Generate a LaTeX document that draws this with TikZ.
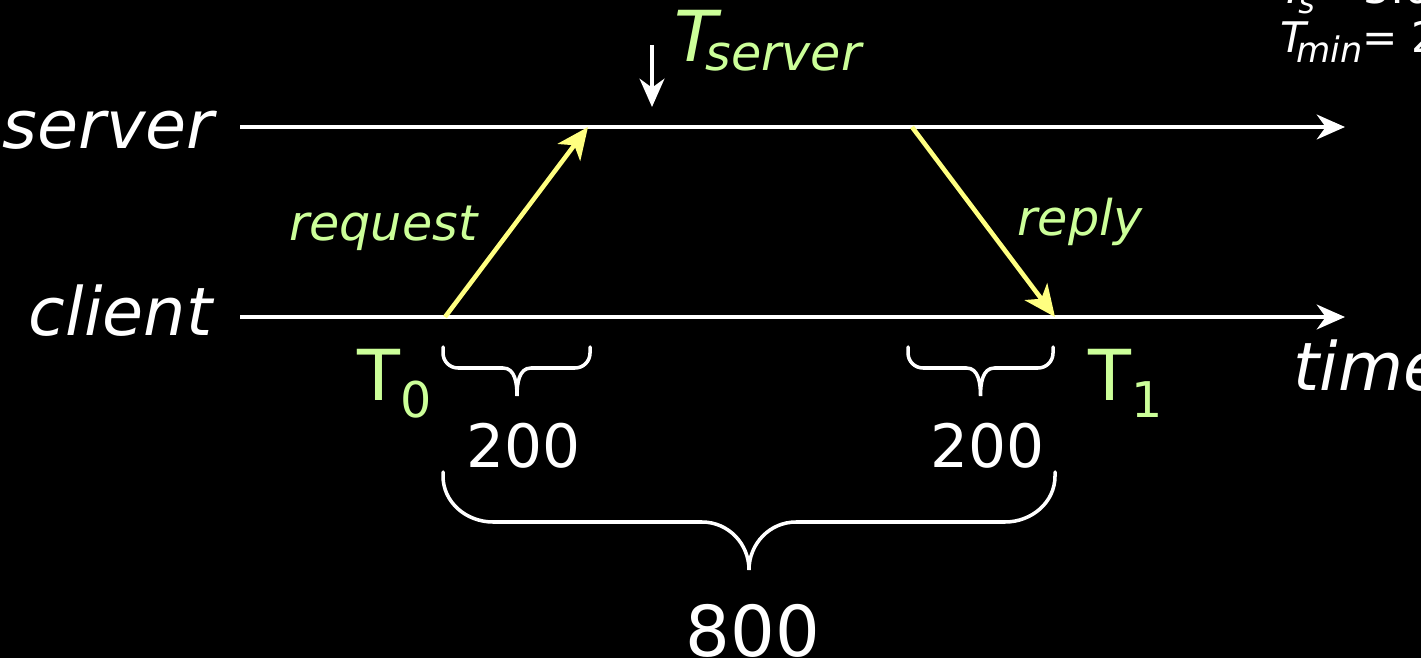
\documentclass[tikz,border=0pt]{standalone}
\usepackage{fontspec}
\setmainfont{DejaVu Sans}
\usetikzlibrary{arrows.meta}
\definecolor{msggreen}{HTML}{CCFF99}
\definecolor{msgyellow}{HTML}{FFFF80}
\begin{document}
\begin{tikzpicture}[
        axis/.style={draw=white,line width=1.3pt,
          -{Stealth[length=8pt,width=7pt,inset=2.5pt]}},
        msg/.style={draw=msgyellow,line width=1.3pt,
          -{Stealth[length=9pt,width=8pt,inset=2.5pt]}},
        role/.style={text=white,font=\fontsize{19}{22}\selectfont\itshape,inner sep=0pt},
        note/.style={text=msggreen,font=\fontsize{14}{17}\selectfont\itshape,inner sep=0pt},
        stamp/.style={text=msggreen,font=\fontsize{20}{24}\selectfont,inner sep=0pt},
        num/.style={text=white,font=\fontsize{17}{20}\selectfont,inner sep=0pt},
        corner/.style={text=white,font=\fontsize{12}{14}\selectfont,inner sep=0pt,anchor=base west},
        brc/.style={draw=white,line width=1pt,line cap=round}]
      \fill[black] (0,0) rectangle (14.21,6.58);
      \useasboundingbox (0,0) rectangle (14.21,6.58);
      % time lines
      \coordinate (srvL) at (2.40,5.31);
      \coordinate (srvR) at (13.45,5.31);
      \coordinate (cliL) at (2.40,3.41);
      \coordinate (cliR) at (13.45,3.41);
      \coordinate (req0) at (4.45,3.41);
      \coordinate (req1) at (5.88,5.31);
      \coordinate (rep0) at (9.12,5.31);
      \coordinate (rep1) at (10.55,3.41);
      \coordinate (tsA) at (6.52,6.13);
      \coordinate (tsB) at (6.52,5.51);
      \draw[axis] (srvL) -- (srvR);
      \draw[axis] (cliL) -- (cliR);
      \draw[msg] (req0) -- (req1);
      \draw[msg] (rep0) -- (rep1);
      \draw[axis] (tsA) -- (tsB);
      \node (server) at (2.15,5.09) [role,anchor=base east] {server};
      \node (client) at (2.13,3.23) [role,anchor=base east] {client};
      \node (time) at (12.93,2.68) [role,anchor=base west] {time};
      \node (request) at (4.78,4.17) [note,anchor=base east] {request};
      \node (reply) at (10.17,4.22) [note,anchor=base west] {reply};
      \node (tserver) at (6.74,5.96) [stamp,anchor=base west]
        {\itshape T\kern-0.12cm\raisebox{-0.09cm}{\fontsize{14}{17}\selectfont server}};
      \node (t0) at (3.57,2.58) [stamp,anchor=base west]
        {T\raisebox{-0.18cm}{\fontsize{14}{17}\selectfont 0}};
      \node (t1) at (10.88,2.58) [stamp,anchor=base west]
        {T\raisebox{-0.18cm}{\fontsize{14}{17}\selectfont 1}};
      % braces
      \coordinate (b1L) at (4.43,3.11);
      \coordinate (b1T) at (5.17,2.62);
      \coordinate (b1R) at (5.90,3.11);
      \coordinate (b2L) at (9.08,3.11);
      \coordinate (b2T) at (9.805,2.62);
      \coordinate (b2R) at (10.53,3.11);
      \coordinate (b3L) at (4.43,1.86);
      \coordinate (b3T) at (7.49,0.88);
      \coordinate (b3R) at (10.55,1.86);
      \draw[brc] (b1L) -- ++(0,-0.06) to[out=-90,in=180] (4.58,2.90) -- (5.03,2.90)
        to[out=0,in=90] (b1T) to[out=90,in=180] (5.31,2.90) -- (5.75,2.90)
        to[out=0,in=-90] (5.90,3.05) -- (b1R);
      \draw[brc] (b2L) -- ++(0,-0.06) to[out=-90,in=180] (9.23,2.90) -- (9.665,2.90)
        to[out=0,in=90] (b2T) to[out=90,in=180] (9.945,2.90) -- (10.38,2.90)
        to[out=0,in=-90] (10.53,3.05) -- (b2R);
      \draw[brc] (b3L) -- ++(0,-0.04) to[out=-90,in=180] (4.93,1.36) -- (7.02,1.36)
        to[out=0,in=90] (b3T) to[out=90,in=180] (7.96,1.36) -- (10.05,1.36)
        to[out=0,in=-90] (10.55,1.82) -- (b3R);
      \node (d1) at (5.24,1.91) [num,anchor=base] {200};
      \node (d2) at (9.88,1.91) [num,anchor=base] {200};
      \node (rtt) at (7.53,0.02) [num,anchor=base,font=\fontsize{20}{24}\selectfont] {800};
      % corner notes
      \node (ts) at (12.80,6.54) [corner]
        {\itshape T\kern-0.08cm\raisebox{-0.1cm}{\fontsize{9}{11}\selectfont s}\upshape = 3:00};
      \node (tmin) at (12.80,6.05) [corner]
        {\itshape T\kern-0.1cm\raisebox{-0.1cm}{\fontsize{10}{12}\selectfont min}\upshape= 20};
\end{tikzpicture}
\end{document}
